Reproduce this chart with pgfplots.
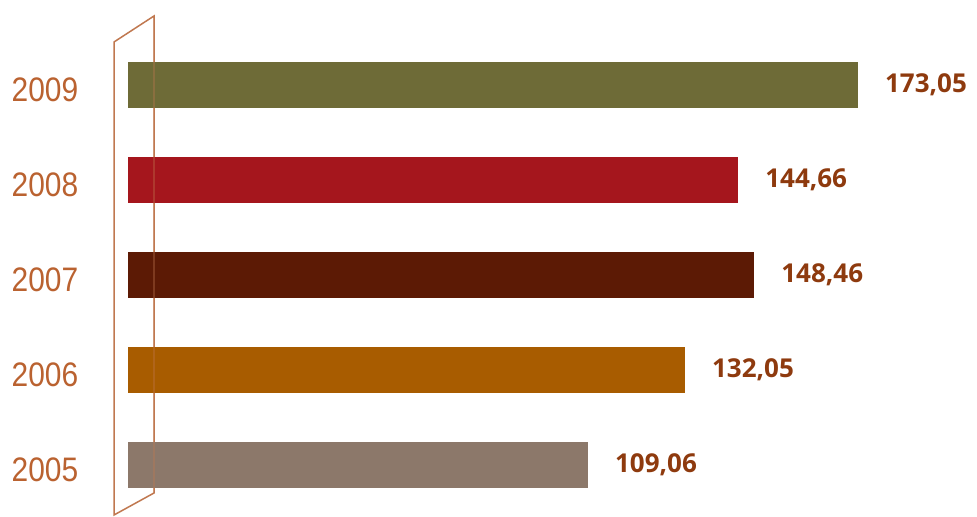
\documentclass[border=0pt]{standalone}
\usepackage{pgfplots}
\pgfplotsset{compat=1.18}
\usepackage{fontspec}
\setmainfont{Liberation Sans}
\newfontfamily\valfont{Open Sans}
\definecolor{c2009}{HTML}{6E6B37}
\definecolor{c2008}{HTML}{A5161D}
\definecolor{c2007}{HTML}{5C1A05}
\definecolor{c2006}{HTML}{A85C00}
\definecolor{c2005}{HTML}{8C786A}
\definecolor{yearcol}{HTML}{BA6230}
\definecolor{valcol}{HTML}{8E3A0E}
\definecolor{framecol}{HTML}{C07850}
\begin{document}
\begin{tikzpicture}
\path[use as bounding box] (-64pt,-2.25pt) rectangle (424.5pt,256.25pt);
\draw[framecol, line width=0.75pt, line join=miter]
  (-7pt,-1.25pt) -- (-7pt,235.25pt) -- (13pt,248.25pt) -- (13pt,9.75pt) -- cycle;
\begin{axis}[
  at={(0,0)}, anchor=south west,
  scale only axis, width=421.85pt, height=237.5pt,
  xmin=0, xmax=200, ymin=-0.5, ymax=4.5,
  xbar, bar width=23pt, bar shift=0pt,
  axis line style={draw=none},
  xtick=\empty,
  ytick={0,1,2,3,4},
  yticklabels={2005,2006,2007,2008,2009},
  major tick length=0pt,
  yticklabel style={anchor=center, xshift=-41.5pt, yshift=-2.5pt,
    font=\fontsize{17}{17}\selectfont\addfontfeature{FakeStretch=0.88}, text=yearcol},
  nodes near coords,
  /pgf/number format/.cd, fixed, fixed zerofill, precision=2, use comma, assume math mode=true,
  /pgfplots/.cd,
  every node near coord/.append style={anchor=west, xshift=10pt,
    font=\valfont\bfseries\fontsize{13}{13}\selectfont, text=valcol},
]
\addplot[fill=c2005, draw=none] coordinates {(109.06,0)};
\addplot[fill=c2006, draw=none] coordinates {(132.05,1)};
\addplot[fill=c2007, draw=none] coordinates {(148.46,2)};
\addplot[fill=c2008, draw=none] coordinates {(144.66,3)};
\addplot[fill=c2009, draw=none] coordinates {(173.05,4)};
\end{axis}
\draw[framecol, line width=0.6pt, opacity=0.35] (13pt,248.25pt) -- (13pt,9.75pt);
\end{tikzpicture}
\end{document}
